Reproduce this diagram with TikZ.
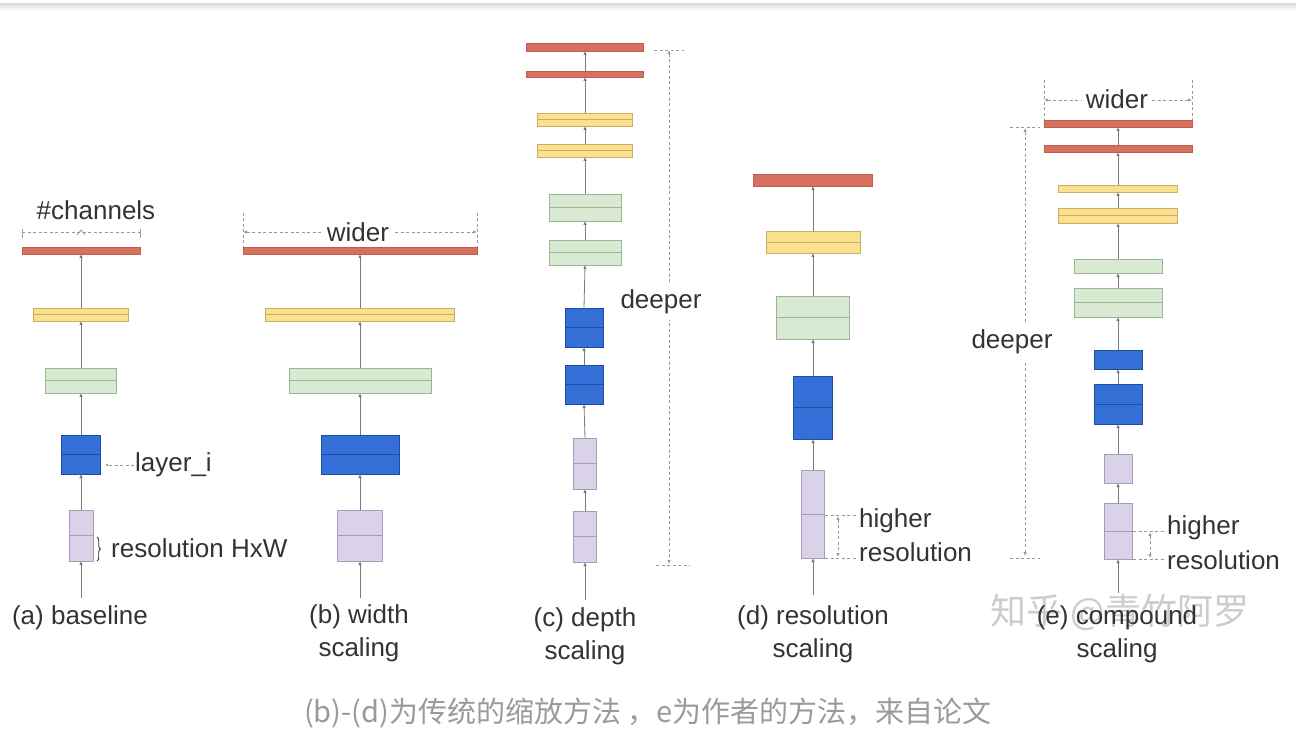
\documentclass[tikz,border=0pt]{standalone}
\usepackage{fontspec}
\setmainfont{Liberation Sans}
\newfontfamily\cjk{Noto Sans CJK SC}
\usetikzlibrary{arrows.meta,decorations.pathreplacing}
\definecolor{txt}{HTML}{333333}
\definecolor{lnk}{HTML}{7A7A7A}
\definecolor{dsh}{HTML}{9A9A9A}
\definecolor{lav}{HTML}{D9D2E9}
\definecolor{lavD}{HTML}{A59DB5}
\definecolor{blu}{HTML}{3570D8}
\definecolor{bluD}{HTML}{1F4C9E}
\definecolor{grn}{HTML}{D9EAD3}
\definecolor{grnD}{HTML}{9DB597}
\definecolor{yel}{HTML}{FBE08F}
\definecolor{yelD}{HTML}{C9AE66}
\definecolor{rd}{HTML}{D6705F}
\definecolor{rdD}{HTML}{BF5E4E}
\definecolor{cap}{HTML}{9A9A9A}
\newcommand\blk[6]{\node[#2, minimum width=#5pt, minimum height=#6pt] (#1) at (#3,#4) {};}
\begin{document}
\begin{tikzpicture}[x=1pt,y=-1pt,
  base/.style={inner sep=0pt, outer sep=0pt, line width=0.8pt},
  mid/.style={path picture={\draw[line width=0.8pt, draw=#1] (path picture bounding box.west) -- (path picture bounding box.east);}},
  lavbox/.style={base, draw=lavD, fill=lav},
  lavmid/.style={lavbox, mid=lavD},
  blubox/.style={base, draw=bluD, fill=blu},
  blumid/.style={blubox, mid=bluD},
  grnbox/.style={base, draw=grnD, fill=grn},
  grnmid/.style={grnbox, mid=grnD},
  yelbox/.style={base, draw=yelD, fill=yel},
  yelmid/.style={yelbox, mid=yelD},
  redbar/.style={base, draw=rdD, fill=rd},
  arr/.style={draw=lnk, line width=0.8pt, -{Latex[length=4pt,width=3.5pt]}},
  dsh/.style={draw=dsh, line width=0.8pt, dash pattern=on 3pt off 2.5pt},
  dtip/.style={dsh, {Latex[length=4pt,width=3.5pt]}-{Latex[length=4pt,width=3.5pt]}},
  lbl/.style={text=txt, font=\fontsize{26}{33}\selectfont, inner sep=1pt},
  ttl/.style={lbl, align=center},
]
\useasboundingbox (0,0) rectangle (1296,730);
\shade[top color=black!12, bottom color=white] (0,4) rectangle (1296,11);
\draw[black!15, line width=0.6pt] (0,4) -- (1296,4);

% watermark (behind the labels)
\node[text=black!20, font=\cjk\fontsize{36}{40}\selectfont, inner sep=0pt] (wm) at (1120,612) {知乎 @青竹阿罗};

% ---------------- (a) baseline
\blk{a1}{lavmid}{81}{535.5}{24}{51}
\blk{a2}{blumid}{81}{454.5}{39}{39}
\blk{a3}{grnmid}{81}{380.5}{71}{25}
\blk{a4}{yelmid}{81}{314.5}{95}{13}
\blk{a5}{redbar}{81}{250.5}{118}{7}
\coordinate (ain) at (81,598);
\draw[arr] (ain) -- (a1.south);
\draw[arr] (a1.north) -- (a2.south);
\draw[arr] (a2.north) -- (a3.south);
\draw[arr] (a3.north) -- (a4.south);
\draw[arr] (a4.north) -- (a5.south);
\node[lbl] (achan) at (96,210) {\#channels};
\coordinate (ab1) at (22,232); \coordinate (ab2) at (140,232);
\draw[dsh] (ab1) -- (ab2);
\draw[dsh, dash pattern=] (22,229) -- (22,238) (140,229) -- (140,238);
\draw[draw=dsh, line width=0.8pt] (77,235) -- (81,230) -- (85,235);
\node[lbl, anchor=west] (alayer) at (134,465) {layer\_i};
\coordinate (alp) at (105,465);
\draw[dsh, -{Latex[length=3pt,width=3pt]}] (alayer.west) -- (alp);
\draw[draw=txt, line width=0.9pt, decorate, decoration={brace, amplitude=3.5pt}] (97,537) -- (97,561);
\node[lbl, anchor=west] (ares) at (110,548) {resolution HxW};
\node[ttl] (alab) at (80,618) {(a) baseline};

% ---------------- (b) width scaling
\blk{b1}{lavmid}{360}{535.5}{45}{51}
\blk{b2}{blumid}{360}{454.5}{78}{39}
\blk{b3}{grnmid}{360}{380.5}{142}{25}
\blk{b4}{yelmid}{360}{314.5}{189}{13}
\blk{b5}{redbar}{360}{250.5}{234}{7}
\coordinate (bin) at (360,598);
\draw[arr] (bin) -- (b1.south);
\draw[arr] (b1.north) -- (b2.south);
\draw[arr] (b2.north) -- (b3.south);
\draw[arr] (b3.north) -- (b4.south);
\draw[arr] (b4.north) -- (b5.south);
\coordinate (bw1) at (243,232); \coordinate (bw2) at (477,232);
\draw[dtip] (bw1) -- (bw2);
\draw[dsh] (243,213) -- (243,247) (477,213) -- (477,247);
\node[lbl, fill=white, inner xsep=6pt] (bwider) at (358,232) {wider};
\node[ttl] (blab) at (359,633) {(b) width\\scaling};

% ---------------- (c) depth scaling
\blk{c1}{lavmid}{585}{536.5}{23}{51}
\blk{c2}{lavmid}{585}{463.5}{23}{51}
\blk{c3}{blumid}{584}{384.5}{38}{39}
\blk{c4}{blumid}{584}{327.5}{38}{39}
\blk{c5}{grnmid}{585}{252.5}{72}{25}
\blk{c6}{grnmid}{585}{207.5}{72}{27}
\blk{c7}{yelmid}{585}{150.5}{95}{13}
\blk{c8}{yelmid}{585}{119.5}{95}{13}
\blk{c9}{redbar}{585}{74}{117}{6}
\blk{c10}{redbar}{585}{47}{117}{8}
\coordinate (cin) at (585,600);
\draw[arr] (cin) -- (c1.south);
\foreach \i/\j in {1/2,2/3,3/4,4/5,5/6,6/7,7/8,8/9,9/10}{\draw[arr] (c\i.north) -- (c\j.south);}
\coordinate (cd1) at (669,50); \coordinate (cd2) at (669,564);
\draw[dtip] (cd1) -- (cd2);
\draw[dsh] (654,50) -- (684,50) (656,565) -- (690,565);
\node[lbl, fill=white, inner ysep=6pt] (cdeep) at (661,302) {deeper};
\node[ttl] (clab) at (585,636) {(c) depth\\scaling};

% ---------------- (d) resolution scaling
\blk{d1}{lavmid}{813}{514}{23}{88}
\blk{d2}{blumid}{813}{407.5}{39}{63}
\blk{d3}{grnmid}{813}{317.5}{73}{43}
\blk{d4}{yelmid}{813}{242}{94}{22}
\blk{d5}{redbar}{813}{180}{119}{12}
\coordinate (din) at (813,595);
\draw[arr] (din) -- (d1.south);
\draw[arr] (d1.north) -- (d2.south);
\draw[arr] (d2.north) -- (d3.south);
\draw[arr] (d3.north) -- (d4.south);
\draw[arr] (d4.north) -- (d5.south);
\draw[dsh] (825,515) -- (856,515) (825,558) -- (856,558);
\coordinate (dh1) at (838,516); \coordinate (dh2) at (838,557);
\draw[dtip] (dh1) -- (dh2);
\node[lbl, anchor=west] (dhigh) at (858,521) {higher};
\node[lbl, anchor=west] (dres) at (858,552) {resolution};
\node[ttl] (dlab) at (813,634) {(d) resolution\\scaling};

% ---------------- (e) compound scaling
\blk{e1}{lavmid}{1118}{531}{28}{56}
\blk{e2}{lavbox}{1118}{468.5}{28}{29}
\blk{e3}{blumid}{1118}{404}{48}{40}
\blk{e4}{blubox}{1118}{359.5}{48}{19}
\blk{e5}{grnmid}{1118}{302.5}{88}{29}
\blk{e6}{grnbox}{1118}{266}{88}{14}
\blk{e7}{yelmid}{1118}{215.5}{119}{15}
\blk{e8}{yelbox}{1118}{188.5}{119}{7}
\blk{e9}{redbar}{1118}{148.5}{148}{7}
\blk{e10}{redbar}{1118}{123.5}{148}{7}
\coordinate (ein) at (1118,593);
\draw[arr] (ein) -- (e1.south);
\foreach \i/\j in {1/2,2/3,3/4,4/5,5/6,6/7,7/8,8/9,9/10}{\draw[arr] (e\i.north) -- (e\j.south);}
\coordinate (ew1) at (1044,100); \coordinate (ew2) at (1192,100);
\draw[dtip] (ew1) -- (ew2);
\draw[dsh] (1044,80) -- (1044,120) (1192,80) -- (1192,120);
\node[lbl, fill=white, inner xsep=4pt] (ewider) at (1117,99) {wider};
\coordinate (ed1) at (1025,128); \coordinate (ed2) at (1025,556);
\draw[dtip] (ed1) -- (ed2);
\draw[dsh] (1010,127) -- (1040,127) (1010,558) -- (1040,558);
\node[lbl, fill=white, inner ysep=8pt] (edeep) at (1012,342) {deeper};
\draw[dsh] (1133,531) -- (1166,531) (1133,559) -- (1166,559);
\coordinate (eh1) at (1150,532); \coordinate (eh2) at (1150,558);
\draw[dtip] (eh1) -- (eh2);
\node[lbl, anchor=west] (ehigh) at (1166,528) {higher};
\node[lbl, anchor=west] (eres) at (1166,560) {resolution};
\node[ttl] (elab) at (1117,634) {(e) compound\\scaling};

% ---------------- caption
\node[text=cap, font=\cjk\fontsize{29}{33}\selectfont, inner sep=0pt] (caption) at (648,713) {(b)-(d)为传统的缩放方法 ，e为作者的方法，来自论文};
\end{tikzpicture}
\end{document}
